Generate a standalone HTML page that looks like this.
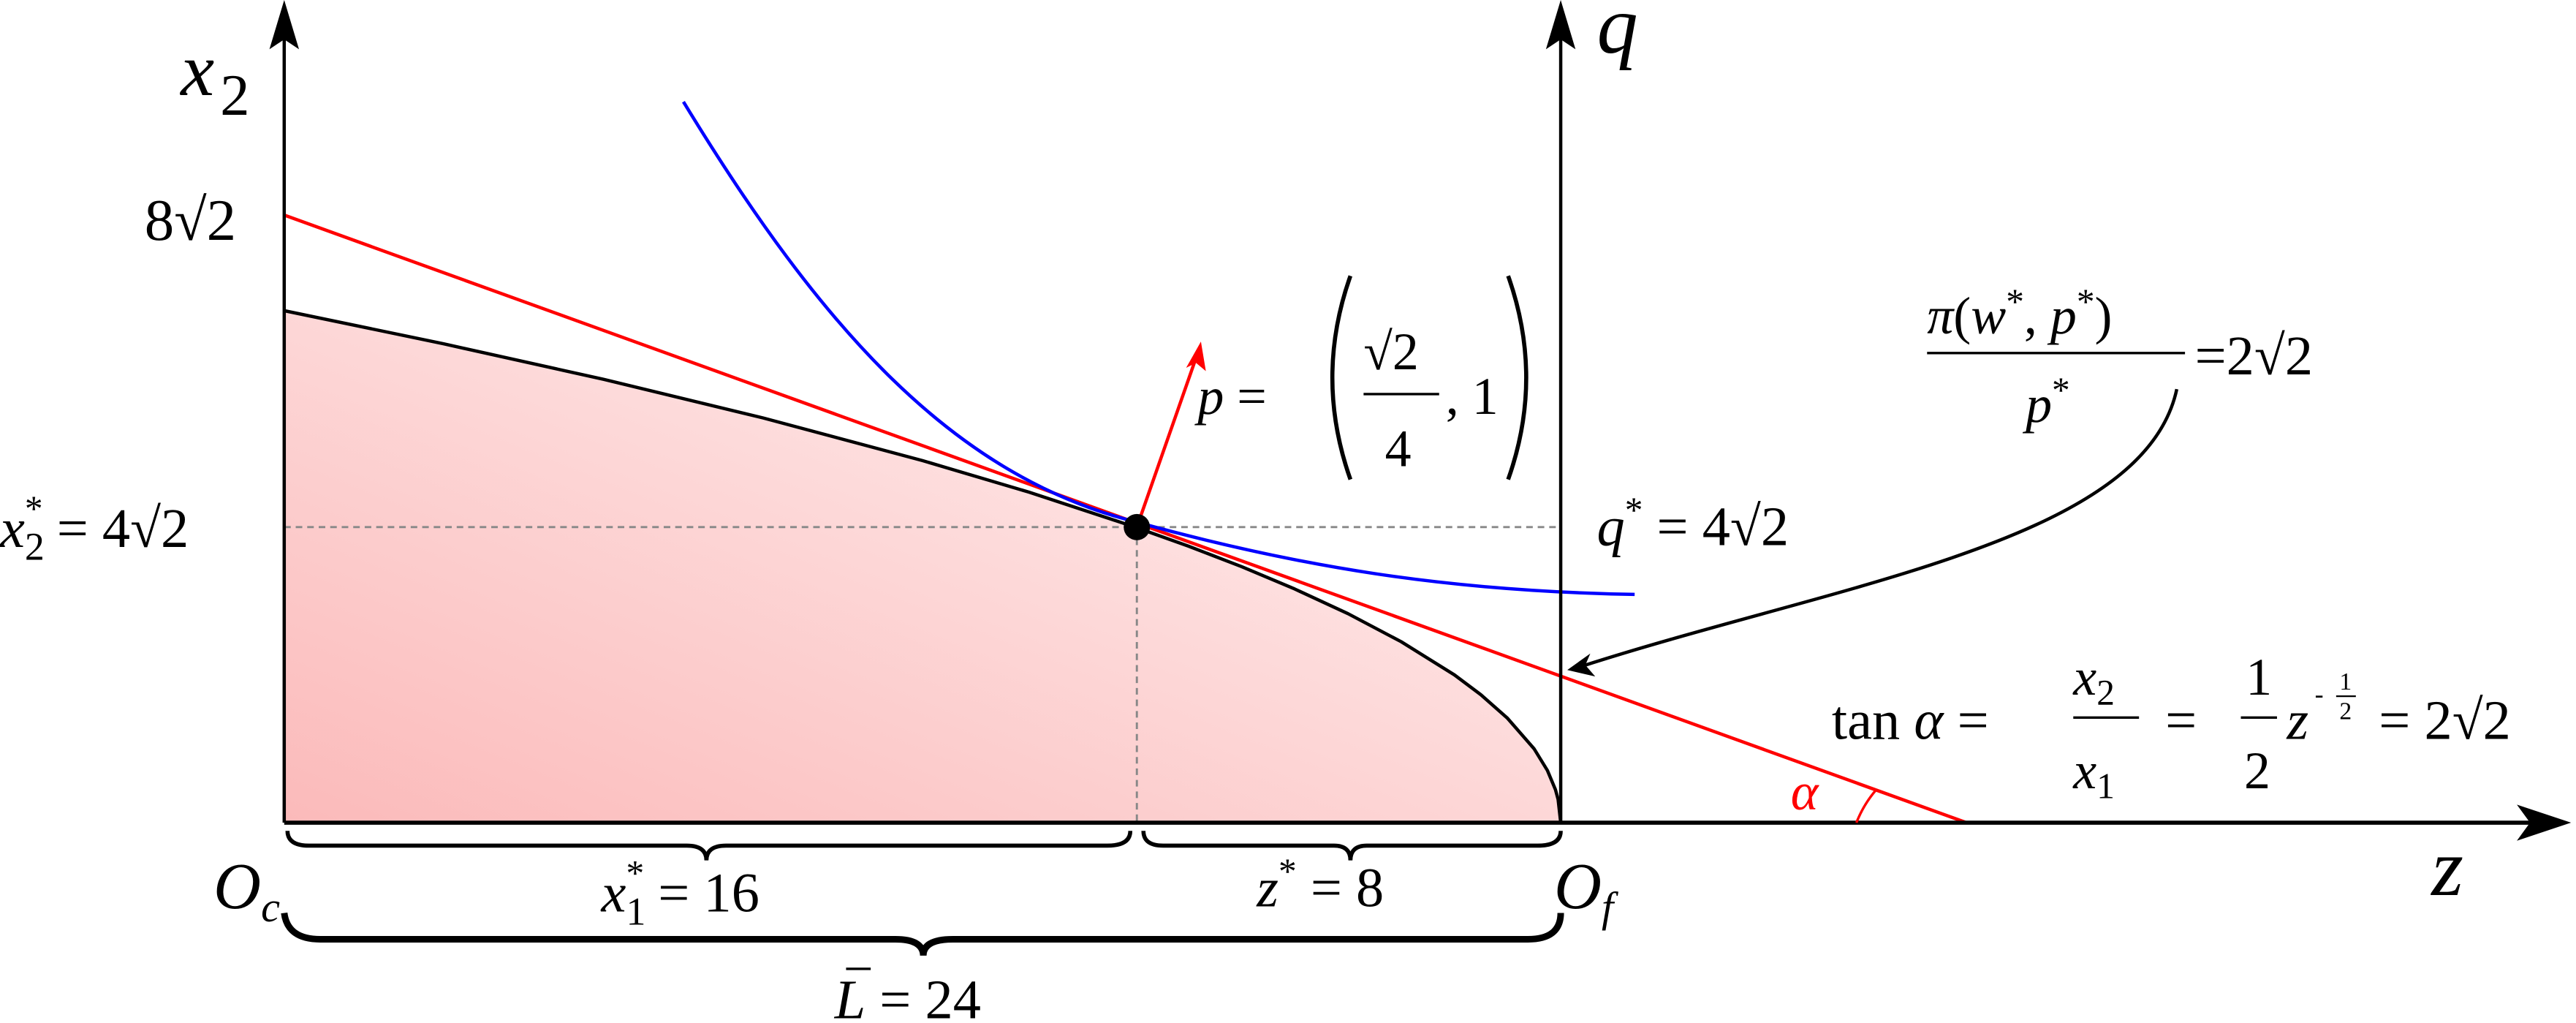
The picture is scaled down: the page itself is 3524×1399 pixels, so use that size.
<!DOCTYPE html>
<html><head><meta charset="utf-8"><style>html,body{margin:0;padding:0;background:#fff}svg{display:block}
text{font-family:"Liberation Serif",serif;fill:#000}</style></head><body>
<svg width="3524" height="1399" viewBox="0 0 1568 623" preserveAspectRatio="none" xmlns="http://www.w3.org/2000/svg">
<defs><linearGradient id="g" x1="0" y1="1" x2="1" y2="0"><stop offset="0" stop-color="#fbbaba"/><stop offset="1" stop-color="#fff4f4"/></linearGradient></defs>
<path d="M173,501 L173,189.2 L270.1,209.4 L367.3,231 L464.4,254.5 L561.5,280.5 L626.3,299.7 L691,321 L723.4,332.6 L755.8,345.1 L788.1,358.7 L820.5,373.7 L852.9,390.8 L885.3,411 L901.4,423.1 L917.6,437.4 L933.8,456 L941.9,469.2 L946.8,480.9 L948.4,486.8 L950,501 Z" fill="url(#g)"/>
<path d="M173,189.2 L270.1,209.4 L367.3,231 L464.4,254.5 L561.5,280.5 L626.3,299.7 L691,321 L723.4,332.6 L755.8,345.1 L788.1,358.7 L820.5,373.7 L852.9,390.8 L885.3,411 L901.4,423.1 L917.6,437.4 L933.8,456 L941.9,469.2 L946.8,480.9 L948.4,486.8 L950,501" fill="none" stroke="#000" stroke-width="2" stroke-linejoin="round"/>
<line x1="173" y1="321" x2="950" y2="321" stroke="#888" stroke-width="1.3" stroke-dasharray="4,3"/>
<line x1="692" y1="321" x2="692" y2="501" stroke="#888" stroke-width="1.3" stroke-dasharray="4,3"/>
<line x1="173" y1="131" x2="1197" y2="501" stroke="#f00" stroke-width="2"/>
<path d="M416,62 C500,200 580,290 692,318 C790,345 880,360 995,362" fill="none" stroke="#00f" stroke-width="2"/>
<line x1="173" y1="501" x2="173" y2="20" stroke="#000" stroke-width="2"/>
<path d="M173,0 L164,30 L173,24 L182,30 Z"/>
<line x1="950" y1="501" x2="950" y2="20" stroke="#000" stroke-width="2"/>
<path d="M950,0 L941,30 L950,24 L959,30 Z"/>
<line x1="173" y1="501" x2="1545" y2="501" stroke="#000" stroke-width="2.5"/>
<path d="M1565,501 L1532,490 L1540,501 L1532,512 Z"/>
<line x1="692" y1="321" x2="728" y2="218" stroke="#f00" stroke-width="2"/>
<path d="M731,208 L722,224 L728,221 L734,226 Z" fill="#f00"/>
<circle cx="692" cy="321" r="8" fill="#000"/>
<path d="M1325,237 C1305,330 1120,355 962,406" fill="none" stroke="#000" stroke-width="2"/>
<path d="M954,408 L968,398 L965,405 L971,412 Z"/>
<path d="M1130,501 A70,70 0 0 1 1142,481" fill="none" stroke="#f00" stroke-width="1.5"/>
<path d="M175,506 Q175,515 188,515 L418,515 Q430,515 430,524 Q430,515 442,515 L674,515 Q688,515 688,506" fill="none" stroke="#000" stroke-width="2.5"/>
<path d="M696,506 Q696,515 708,515 L812,515 Q822,515 822,524 Q822,515 832,515 L936,515 Q950,515 950,506" fill="none" stroke="#000" stroke-width="2.5"/>
<path d="M173,556 Q175,572 195,572 L545,572 Q562,572 562,582 Q562,572 580,572 L930,572 Q950,572 950,556" fill="none" stroke="#000" stroke-width="4"/>
<text x="110" y="58" font-size="46" font-style="italic">x</text><text x="134" y="70" font-size="36">2</text>
<text x="972" y="32" font-size="50" font-style="italic">q</text>
<text x="88" y="146" font-size="36">8√2</text>
<text x="0" y="333" font-size="34"><tspan font-style="italic">x</tspan><tspan font-size="24" dy="8">2</tspan><tspan font-size="22" dy="-24" dx="-12">*</tspan><tspan dy="16"> = 4√2</tspan></text>
<text x="972" y="332" font-size="34"><tspan font-style="italic">q</tspan><tspan font-size="22" dy="-14">*</tspan><tspan dy="14"> = 4√2</tspan></text>
<text x="729" y="252" font-size="32"><tspan font-style="italic">p</tspan> =</text>
<path d="M822,168 Q800,230 822,292" fill="none" stroke="#000" stroke-width="2.5"/>
<path d="M918,168 Q940,230 918,292" fill="none" stroke="#000" stroke-width="2.5"/>
<text x="830" y="225" font-size="32">√2</text>
<line x1="830" y1="240" x2="876" y2="240" stroke="#000" stroke-width="1.5"/>
<text x="843" y="284" font-size="32">4</text>
<text x="880" y="252" font-size="32">, 1</text>
<text x="1173" y="203" font-size="32"><tspan font-style="italic">π</tspan>(<tspan font-style="italic">w</tspan><tspan font-size="22" dy="-12">*</tspan><tspan dy="12">, </tspan><tspan font-style="italic">p</tspan><tspan font-size="22" dy="-12">*</tspan><tspan dy="12">)</tspan></text>
<line x1="1173" y1="215" x2="1330" y2="215" stroke="#000" stroke-width="1.5"/>
<text x="1233" y="257" font-size="32"><tspan font-style="italic">p</tspan><tspan font-size="22" dy="-12">*</tspan></text>
<text x="1336" y="228" font-size="34">=2√2</text>
<text x="1115" y="450" font-size="34">tan <tspan font-style="italic">α</tspan> =</text>
<text x="1262" y="423" font-size="32" font-style="italic">x<tspan font-size="22" dy="6" font-style="normal">2</tspan></text>
<line x1="1262" y1="437" x2="1302" y2="437" stroke="#000" stroke-width="1.5"/>
<text x="1262" y="480" font-size="32" font-style="italic">x<tspan font-size="22" dy="6" font-style="normal">1</tspan></text>
<text x="1318" y="450" font-size="34">=</text>
<text x="1367" y="423" font-size="32">1</text>
<line x1="1364" y1="437" x2="1386" y2="437" stroke="#000" stroke-width="1.5"/>
<text x="1366" y="480" font-size="32">2</text>
<text x="1392" y="450" font-size="34" font-style="italic">z</text>
<text x="1409" y="428" font-size="16">-</text><text x="1424" y="420" font-size="15">1</text>
<line x1="1422" y1="424" x2="1434" y2="424" stroke="#000" stroke-width="1"/>
<text x="1424" y="438" font-size="15">2</text>
<text x="1448" y="450" font-size="34">= 2√2</text>
<text x="1090" y="493" font-size="32" font-style="italic" style="fill:#f00">α</text>
<text x="130" y="553" font-size="40" font-style="italic">O<tspan font-size="26" dy="8">c</tspan></text>
<text x="946" y="553" font-size="40" font-style="italic">O<tspan font-size="26" dy="8">f</tspan></text>
<text x="1480" y="545" font-size="50" font-style="italic">z</text>
<text x="366" y="555" font-size="34"><tspan font-style="italic">x</tspan><tspan font-size="24" dy="8">1</tspan><tspan font-size="22" dy="-24" dx="-12">*</tspan><tspan dy="16"> = 16</tspan></text>
<text x="765" y="552" font-size="34"><tspan font-style="italic">z</tspan><tspan font-size="22" dy="-14">*</tspan><tspan dy="14"> = 8</tspan></text>
<text x="508" y="620" font-size="34"><tspan font-style="italic">L</tspan> = 24</text>
<line x1="515" y1="590" x2="530" y2="590" stroke="#000" stroke-width="1.5"/>
</svg>
</body></html>
